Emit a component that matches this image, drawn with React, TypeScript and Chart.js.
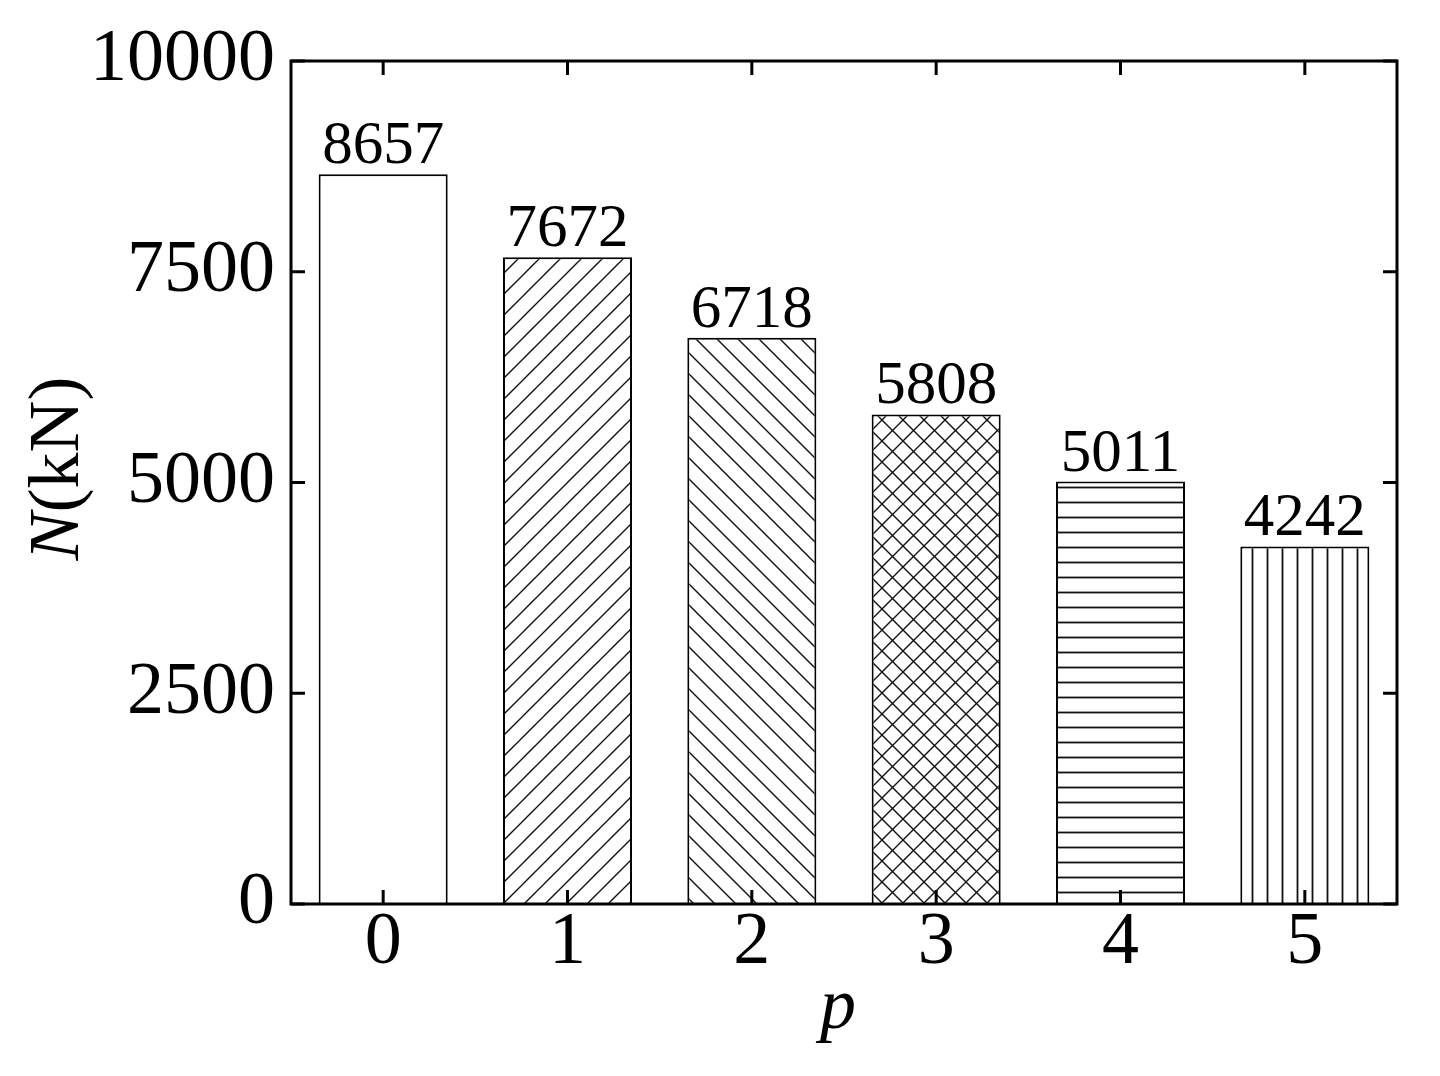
import React, { useEffect, useRef } from "react";
import { Chart, registerables } from "chart.js";

Chart.register(...registerables);

const categories = ["0", "1", "2", "3", "4", "5"];
const values = [8657, 7672, 6718, 5808, 5011, 4242];
const yTickValues = [0, 2500, 5000, 7500, 10000];
const hatchKinds = ["none", "forward", "backward", "cross", "horizontal", "vertical"];

const FONT = "'Liberation Serif', 'Times New Roman', serif";

function makePattern(kind: string): CanvasPattern | string {
  if (kind === "none") return "#ffffff";
  const diag = kind === "forward" || kind === "backward" || kind === "cross";
  const s = diag ? 21 : 15;
  const c = document.createElement("canvas");
  c.width = s;
  c.height = s;
  const g = c.getContext("2d")!;
  g.fillStyle = "#ffffff";
  g.fillRect(0, 0, s, s);
  g.strokeStyle = "#111111";
  g.lineWidth = 1.4;
  g.lineCap = "square";
  const line = (x1: number, y1: number, x2: number, y2: number) => {
    g.beginPath();
    g.moveTo(x1, y1);
    g.lineTo(x2, y2);
    g.stroke();
  };
  if (kind === "forward" || kind === "cross") {
    line(-2, s + 2, s + 2, -2);
    line(-2, 2, 2, -2);
    line(s - 2, s + 2, s + 2, s - 2);
  }
  if (kind === "backward" || kind === "cross") {
    line(-2, -2, s + 2, s + 2);
    line(s - 2, -2, s + 2, 2);
    line(-2, s - 2, 2, s + 2);
  }
  if (kind === "horizontal") {
    g.lineWidth = 1.8;
    line(0, s / 2, s, s / 2);
  }
  if (kind === "vertical") {
    g.lineWidth = 1.8;
    line(s / 2, 0, s / 2, s);
  }
  return g.createPattern(c, "repeat")!;
}

const framePlugin = {
  id: "framePlugin",
  afterDatasetsDraw(chart: any) {
    const { ctx, chartArea } = chart;
    const { left, right, top, bottom } = chartArea;
    const xs = chart.scales.x;
    const ys = chart.scales.y;
    ctx.save();
    ctx.strokeStyle = "#000";
    ctx.lineWidth = 3;
    ctx.strokeRect(left, top, right - left, bottom - top);
    const tl = 14;
    ctx.lineWidth = 3;
    ctx.beginPath();
    yTickValues.forEach((v) => {
      const y = ys.getPixelForValue(v);
      ctx.moveTo(left, y);
      ctx.lineTo(left + tl, y);
      ctx.moveTo(right, y);
      ctx.lineTo(right - tl, y);
    });
    categories.forEach((_, i) => {
      const x = xs.getPixelForValue(i);
      ctx.moveTo(x, bottom);
      ctx.lineTo(x, bottom - tl);
      ctx.moveTo(x, top);
      ctx.lineTo(x, top + tl);
    });
    ctx.stroke();

    // value labels
    ctx.fillStyle = "#000";
    ctx.font = `61px ${FONT}`;
    ctx.textAlign = "center";
    ctx.textBaseline = "alphabetic";
    const meta = chart.getDatasetMeta(0);
    meta.data.forEach((bar: any, i: number) => {
      ctx.fillText(String(values[i]), bar.x, bar.y - 11);
    });

    // x title
    ctx.font = `italic 72px ${FONT}`;
    ctx.fillText("p", (left + right) / 2 - 6, 1028);

    // y title
    ctx.translate(78, (top + bottom) / 2 - 14);
    ctx.rotate(-Math.PI / 2);
    ctx.font = `italic 72px ${FONT}`;
    const wN = ctx.measureText("N").width;
    ctx.font = `72px ${FONT}`;
    const wR = ctx.measureText("(kN)").width;
    const start = -(wN + wR) / 2;
    ctx.textAlign = "left";
    ctx.font = `italic 72px ${FONT}`;
    ctx.fillText("N", start, 0);
    ctx.font = `72px ${FONT}`;
    ctx.fillText("(kN)", start + wN, 0);
    ctx.restore();
  },
};

export default function App() {
  const ref = useRef<HTMLCanvasElement | null>(null);
  useEffect(() => {
    document.body.style.margin = "0";
    const canvas = ref.current!;
    const chart = new Chart(canvas, {
      type: "bar",
      data: {
        labels: categories,
        datasets: [
          {
            data: values,
            backgroundColor: hatchKinds.map(makePattern) as any,
            borderColor: "#000",
            borderWidth: 2,
            categoryPercentage: 1,
            barPercentage: 0.7,
          },
        ],
      },
      options: {
        animation: false,
        responsive: false,
        devicePixelRatio: 1,
        layout: { padding: { top: 61, right: 43, left: 0, bottom: 0 } },
        plugins: { legend: { display: false }, tooltip: { enabled: false } },
        scales: {
          x: {
            type: "category",
            offset: true,
            grid: { display: false, drawTicks: false },
            border: { display: false },
            ticks: { font: { family: FONT, size: 74 }, color: "#000", padding: -5, maxRotation: 0 },
            afterFit: (s: any) => {
              s.height = 172;
            },
          },
          y: {
            min: 0,
            max: 10000,
            grid: { display: false, drawTicks: false },
            border: { display: false },
            ticks: {
              stepSize: 2500,
              font: { family: FONT, size: 74 },
              color: "#000",
              padding: 16,
              callback: (v: any) => String(v),
            },
            afterFit: (s: any) => {
              s.width = 291;
            },
          },
        },
      },
      plugins: [framePlugin],
    });
    return () => chart.destroy();
  }, []);
  return <canvas ref={ref} width={1440} height={1076} style={{ display: "block" }} />;
}
